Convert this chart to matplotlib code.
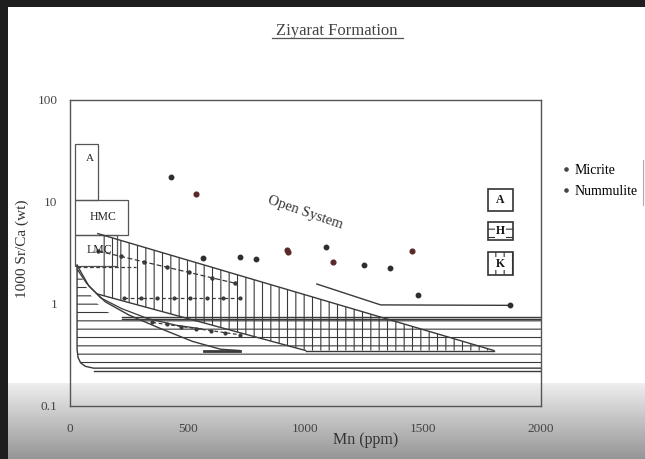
import numpy as np
import matplotlib
matplotlib.use("Agg")
import matplotlib.pyplot as plt
from matplotlib.patches import Rectangle
from matplotlib.lines import Line2D

plt.rcParams['font.family'] = ['Liberation Serif', 'DejaVu Serif']
plt.rcParams['hatch.linewidth'] = 0.8

# ---------------- data ----------------
title = "Ziyarat Formation"
xlabel = "Mn (ppm)"
ylabel = "1000 Sr/Ca (wt)"
x_ticks = [0, 500, 1000, 1500, 2000]
x_ticklabels = ["0", "500", "1000", "1500", "2000"]
y_ticks = [0.1, 1, 10, 100]
y_ticklabels = ["0.1", "1", "10", "100"]

mn_micrite = [428, 563, 723, 788, 1088, 1247, 1357, 1476, 1870]
sr_micrite = [17.6, 2.8, 2.9, 2.75, 3.6, 2.4, 2.25, 1.22, 0.97]
mn_numm = [536, 920, 925, 1118, 1452]
sr_numm = [12.0, 3.4, 3.2, 2.6, 3.3]

# horizontal-hatched field (H)
h_x = [30, 30, 34, 45, 65, 100, 2000, 2000, 220, 150, 100, 60, 30]
h_y = [2.4, 0.36, 0.30, 0.265, 0.245, 0.235, 0.235, 0.73, 0.73, 0.85, 1.1, 1.6, 2.4]
# vertical-hatched field (K)
k_x = [118, 1800, 1000, 118, 118]
k_y = [4.9, 0.35, 0.35, 1.25, 4.9]

# curves / mixing lines
curve1_x = [30, 80, 150, 250, 380, 520, 640, 720]
curve1_y = [2.4, 1.5, 1.05, 0.78, 0.58, 0.43, 0.36, 0.35]
curve2_x = [30, 70, 130, 220, 330, 450, 560]
curve2_y = [2.2, 1.6, 1.15, 0.9, 0.72, 0.62, 0.57]
mix1_x = [120, 700]
mix1_y = [3.3, 1.6]
mix2_x = [30, 280]
mix2_y = [2.3, 2.3]
mix3_x = [230, 720]
mix3_y = [1.15, 1.15]
mix4_x = [350, 720]
mix4_y = [0.66, 0.5]
open_x = [1048, 1319, 1870]
open_y = [1.57, 0.98, 0.97]

# field boxes on left
box_A = (21, 119, 10.5, 37)
box_HMC = (21, 246, 4.8, 10.5)
box_LMC = (21, 200, 2.35, 4.8)
# key boxes on right
key_A = (1775, 1881, 8.2, 13.4)
key_H = (1775, 1881, 4.2, 6.4)
key_K = (1775, 1881, 1.92, 3.24)

# ---------------- figure ----------------
W, H = 645, 459
fig = plt.figure(figsize=(W / 100, H / 100), dpi=100)

# background (scan look): white, dark border top/left, grey band at bottom
grad = np.ones((H, W))
rows = np.arange(H)
band = rows >= 383
grad[band, :] = (0.93 - (rows[band] - 383) / (H - 383) * 0.35)[:, None]
grad[:7, :] = 0.12
grad[:, :8] = 0.12
bg = fig.add_axes([0, 0, 1, 1], zorder=-10)
bg.imshow(grad, cmap='gray', vmin=0, vmax=1, aspect='auto', extent=[0, 1, 0, 1])
bg.axis('off')

ax = fig.add_axes([70 / W, 1 - 406 / H, 471 / W, 306 / H])
ax.set_facecolor('none')
ax.set_yscale('log')
ax.set_xlim(0, 2000)
ax.set_ylim(0.1, 100)
ax.set_xticks(x_ticks)
ax.set_xticklabels(x_ticklabels)
ax.set_yticks(y_ticks)
ax.set_yticklabels(y_ticklabels)
ax.minorticks_off()
ax.tick_params(length=0, labelsize=9.5, colors='#444444')
ax.tick_params(axis='x', pad=12)
ax.tick_params(axis='y', pad=9)
for s in ax.spines.values():
    s.set_color('#555555')
    s.set_linewidth(1.0)

lc = '#3a3a3a'
# hatched fields
ax.fill(h_x, h_y, facecolor='none', edgecolor=lc, hatch='--', linewidth=0)
ax.fill(k_x, k_y, facecolor='none', edgecolor=lc, hatch='||', linewidth=0)
ax.plot(k_x[:2], k_y[:2], color=lc, lw=1.0)
ax.plot(k_x[1:3], k_y[1:3], color=lc, lw=1.0)
ax.plot(k_x[2:4], k_y[2:4], color=lc, lw=1.0)
# H boundaries
ax.plot(h_x[:7], h_y[:7], color=lc, lw=1.0)
ax.plot([100, 2000], [0.22, 0.22], color=lc, lw=1.0)
ax.plot([220, 2000], [0.75, 0.75], color=lc, lw=1.0)
ax.plot([220, 2000], [0.72, 0.72], color=lc, lw=1.0)

# curves & mixing lines
ax.plot(curve1_x, curve1_y, color=lc, lw=1.0)
ax.plot(curve2_x, curve2_y, color=lc, lw=0.9)
ax.plot(mix1_x, mix1_y, color=lc, lw=0.9, ls=(0, (4, 2)))
ax.plot(np.linspace(*mix1_x, 7), np.geomspace(*mix1_y, 7), ls='none', marker='o',
        ms=2.2, color=lc)
ax.plot(mix2_x, mix2_y, color=lc, lw=0.9, ls=(0, (3, 2)))
ax.plot(np.linspace(*mix3_x, 8), np.geomspace(*mix3_y, 8), color=lc, lw=0.9,
        ls=(0, (3, 2)), marker='o', ms=2)
ax.plot(np.linspace(*mix4_x, 7), np.geomspace(*mix4_y, 7), color=lc, lw=0.9,
        ls=(0, (3, 2)), marker='o', ms=2)
ax.plot([570, 720], [0.35, 0.35], color=lc, lw=2)

# open system line
ax.plot(open_x, open_y, color=lc, lw=1.0)

# left boxes
for (x0, x1, y0, y1) in [box_A, box_HMC, box_LMC]:
    ax.add_patch(Rectangle((x0, y0), x1 - x0, y1 - y0, facecolor='none',
                           edgecolor='#555555', lw=0.9))
ax.text(85, 27, "A", fontsize=8, ha='center', va='center', color='#222222')
ax.text(140, 7.1, "HMC", fontsize=8.5, ha='center', va='center', color='#222222')
ax.text(125, 3.4, "LMC", fontsize=8.5, ha='center', va='center', color='#222222')

# key boxes on right
for (x0, x1, y0, y1), hatch, lab in [(key_A, None, "A"), (key_H, '--', "H"),
                                      (key_K, '||', "K")]:
    ax.add_patch(Rectangle((x0, y0), x1 - x0, y1 - y0, facecolor='white',
                           edgecolor='#333333', lw=1.2, hatch=hatch))
    ax.text((x0 + x1) / 2, np.sqrt(y0 * y1), lab, fontsize=8.5, ha='center',
            va='center', color='#111111', fontweight='bold',
            bbox=dict(boxstyle='square,pad=0.05', fc='white', ec='none'))

ax.text(1000, 7.9, "Open System", fontsize=10.5, rotation=-19, ha='center',
        va='center', color='#333333', rotation_mode='anchor')

# data points
ax.plot(mn_micrite, sr_micrite, ls='none', marker='o', ms=3.2, color='#2e2e2e',
        label='Micrite')
ax.plot(mn_numm, sr_numm, ls='none', marker='o', ms=3.4, color='#5a2a2a',
        label='Nummulite')

# legend (outside right)
handles = [Line2D([], [], ls='none', marker='o', ms=2.3, color='#444444'),
           Line2D([], [], ls='none', marker='o', ms=2.3, color='#444444')]
fig.legend(handles, ['Micrite', 'Nummulite'], loc='upper left',
           bbox_to_anchor=(560 / W, 1 - 164 / H), frameon=False, fontsize=10,
           handletextpad=0.25, handlelength=0.8, labelspacing=0.6,
           borderaxespad=0, borderpad=0)
fig.add_artist(Line2D([643 / W, 643 / W], [1 - 160 / H, 1 - 205 / H],
                      transform=fig.transFigure, color='#aaaaaa', lw=0.8))

# title with underline
fig.text(337 / W, 1 - 31 / H, title, ha='center', va='center', fontsize=12,
         color='#444444')
fig.add_artist(Line2D([272 / W, 403 / W], [1 - 38 / H, 1 - 38 / H],
                      transform=fig.transFigure, color='#555555', lw=0.9))

fig.text(366 / W, 1 - 440 / H, xlabel, ha='center', va='center', fontsize=11.5,
         color='#333333')
fig.text(22 / W, 1 - 249 / H, ylabel, ha='center', va='center', fontsize=11,
         rotation=90, color='#333333')

fig.savefig("out.png", dpi=100)
